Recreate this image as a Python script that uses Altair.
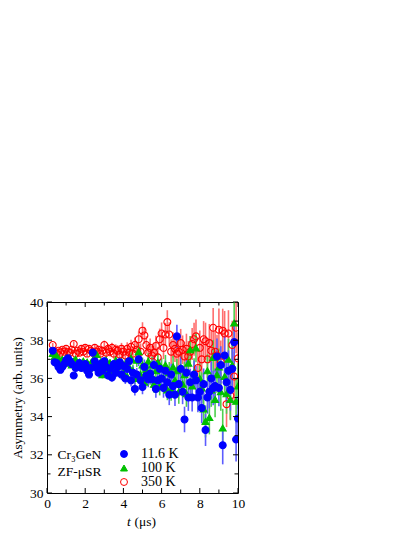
import altair as alt
import pandas as pd

# ---------------- data ----------------
t_us = [0.3, 0.4, 0.5, 0.6, 0.7, 0.8, 0.9, 1.0,
        1.1, 1.2, 1.3, 1.4, 1.5, 1.6, 1.7, 1.8, 1.9, 2.0,
        2.1, 2.2, 2.3, 2.4, 2.5, 2.6, 2.7, 2.8, 2.9, 3.0,
        3.1, 3.2, 3.3, 3.4, 3.5, 3.6, 3.7, 3.8, 3.9, 4.0,
        4.1, 4.2, 4.3, 4.4, 4.5, 4.6, 4.7, 4.8, 4.9, 5.0,
        5.1, 5.2, 5.3, 5.4, 5.5, 5.6, 5.7, 5.8, 5.9, 6.0,
        6.1, 6.2, 6.3, 6.4, 6.5, 6.6, 6.7, 6.8, 6.9, 7.0,
        7.1, 7.2, 7.3, 7.4, 7.5, 7.6, 7.7, 7.8, 7.9, 8.0,
        8.1, 8.2, 8.3, 8.4, 8.5, 8.6, 8.7, 8.8, 8.9, 9.0,
        9.1, 9.2, 9.3, 9.4, 9.5, 9.6, 9.7, 9.8, 9.9, 10.0]

asym_11K = [37.45, 36.85, 36.80, 36.60, 36.45, 36.60, 36.75, 36.95,
            37.05, 36.90, 36.75, 36.15, 36.55, 36.65, 36.80, 36.55, 36.70, 36.75,
            36.40, 36.20, 36.55, 37.35, 36.90, 36.55, 36.30, 36.75, 36.40, 36.90,
            36.60, 36.15, 36.50, 36.05, 36.75, 36.30, 36.60, 36.85, 36.20, 36.65,
            36.00, 36.50, 36.90, 35.90, 36.30, 35.45, 36.20, 37.00, 35.90, 35.55,
            36.60, 36.15, 35.95, 36.25, 35.95, 36.70, 35.45, 35.90, 36.50, 36.00,
            35.50, 36.40, 35.80, 35.15, 36.20, 35.60, 35.15, 38.20, 35.70, 36.50,
            35.30, 33.85, 36.30, 35.00, 35.80, 35.00, 36.20, 35.90, 35.00, 35.30,
            34.45, 35.70, 33.30, 35.00, 35.30, 36.00, 35.50, 35.60, 37.15, 35.50,
            36.70, 32.50, 37.20, 35.80, 36.40, 35.40, 36.50, 37.90, 32.80, 33.90]

asym_100K = [37.30, 37.15, 37.20, 37.05, 36.90, 37.00, 36.85, 37.05,
             36.80, 36.95, 36.70, 36.90, 37.00, 36.75, 36.85, 36.60, 36.90, 36.70,
             36.85, 36.55, 36.80, 36.95, 36.65, 37.25, 36.60, 36.85, 36.20, 36.75,
             36.95, 36.50, 36.80, 36.40, 36.70, 36.95, 36.35, 36.65, 36.85, 36.30,
             36.75, 36.10, 36.60, 37.05, 36.40, 36.00, 36.95, 37.40, 36.20, 36.70,
             35.80, 36.45, 36.90, 36.10, 36.70, 35.70, 36.40, 36.85, 35.60, 36.55,
             36.00, 36.70, 35.40, 36.30, 35.40, 36.60, 35.90, 36.40, 35.30, 36.55,
             35.70, 36.20, 35.20, 36.80, 37.50, 35.60, 36.30, 37.60, 35.10, 36.00,
             35.50, 34.40, 33.75, 36.40, 33.95, 35.40, 37.10, 34.90, 36.20, 36.60,
             35.30, 33.40, 36.10, 35.20, 37.00, 34.90, 36.70, 38.90, 34.80, 35.60]

asym_350K = [37.75, 37.40, 37.30, 37.45, 37.35, 37.50, 37.40, 37.55,
             37.40, 37.35, 37.50, 37.80, 37.30, 37.45, 37.35, 37.55, 37.40, 37.60,
             37.30, 37.55, 37.45, 37.35, 37.60, 37.40, 37.50, 37.30, 37.45, 37.75,
             37.35, 37.55, 37.40, 37.60, 37.30, 37.50, 37.45, 37.25, 37.55, 37.40,
             37.20, 37.55, 37.35, 37.65, 37.30, 37.75, 37.50, 38.05, 37.40, 38.50,
             38.25, 37.75, 37.35, 37.60, 37.20, 37.35, 37.70, 37.10, 38.05, 38.35,
             37.60, 38.30, 38.95, 38.30, 37.40, 37.75, 37.55, 37.30, 37.40, 37.85,
             37.50, 37.15, 37.55, 37.15, 37.40, 37.80, 38.05, 38.20, 36.55, 37.60,
             37.00, 38.05, 37.95, 37.00, 37.85, 37.45, 38.65, 37.40, 37.20, 38.55,
             36.85, 38.50, 38.35, 34.65, 38.35, 35.10, 37.75, 36.10, 38.65, 37.05]

err_11K = [0.09, 0.09, 0.10, 0.10, 0.10, 0.10, 0.11, 0.11,
           0.11, 0.12, 0.12, 0.12, 0.13, 0.13, 0.14, 0.14, 0.14, 0.15,
           0.15, 0.16, 0.16, 0.17, 0.17, 0.18, 0.18, 0.19, 0.19, 0.20,
           0.21, 0.21, 0.22, 0.23, 0.23, 0.24, 0.25, 0.26, 0.27, 0.28,
           0.29, 0.30, 0.31, 0.32, 0.33, 0.34, 0.35, 0.36, 0.37, 0.38,
           0.39, 0.40, 0.41, 0.42, 0.44, 0.45, 0.46, 0.47, 0.49, 0.50,
           0.51, 0.53, 0.54, 0.55, 0.57, 0.58, 0.60, 0.61, 0.62, 0.64,
           0.65, 0.67, 0.68, 0.70, 0.71, 0.73, 0.74, 0.76, 0.77, 0.79,
           0.80, 0.82, 0.84, 0.85, 0.87, 0.89, 0.90, 0.92, 0.94, 0.96,
           0.98, 1.00, 1.02, 1.04, 1.06, 1.08, 1.10, 1.13, 1.15, 1.18]

err_100K = [0.09, 0.10, 0.10, 0.10, 0.11, 0.10, 0.11, 0.11,
            0.12, 0.12, 0.12, 0.13, 0.13, 0.13, 0.14, 0.14, 0.15, 0.15,
            0.15, 0.16, 0.17, 0.17, 0.17, 0.18, 0.19, 0.19, 0.20, 0.20,
            0.21, 0.22, 0.22, 0.23, 0.24, 0.24, 0.25, 0.26, 0.27, 0.28,
            0.29, 0.30, 0.31, 0.32, 0.33, 0.34, 0.35, 0.36, 0.37, 0.39,
            0.40, 0.41, 0.42, 0.43, 0.44, 0.45, 0.47, 0.48, 0.49, 0.50,
            0.52, 0.53, 0.54, 0.56, 0.57, 0.59, 0.60, 0.61, 0.63, 0.64,
            0.66, 0.67, 0.69, 0.70, 0.72, 0.73, 0.75, 0.76, 0.78, 0.79,
            0.81, 0.83, 0.84, 0.86, 0.88, 0.89, 0.91, 0.93, 0.95, 0.97,
            0.99, 1.01, 1.03, 1.05, 1.07, 1.09, 1.11, 1.14, 1.16, 1.19]

err_350K = [0.10, 0.10, 0.11, 0.11, 0.11, 0.12, 0.12, 0.12,
            0.13, 0.13, 0.14, 0.14, 0.15, 0.15, 0.16, 0.16, 0.17, 0.17,
            0.18, 0.18, 0.19, 0.19, 0.20, 0.21, 0.21, 0.22, 0.22, 0.23,
            0.24, 0.25, 0.25, 0.26, 0.27, 0.28, 0.29, 0.30, 0.31, 0.32,
            0.33, 0.34, 0.35, 0.37, 0.38, 0.39, 0.40, 0.41, 0.43, 0.44,
            0.45, 0.46, 0.48, 0.49, 0.50, 0.52, 0.53, 0.55, 0.56, 0.58,
            0.59, 0.61, 0.62, 0.64, 0.65, 0.67, 0.69, 0.70, 0.72, 0.74,
            0.75, 0.77, 0.79, 0.81, 0.82, 0.84, 0.86, 0.88, 0.89, 0.91,
            0.93, 0.95, 0.97, 0.98, 1.00, 1.02, 1.04, 1.06, 1.09, 1.11,
            1.13, 1.15, 1.18, 1.20, 1.22, 1.25, 1.27, 1.30, 1.33, 1.36]

series_names = ["11.6 K", "100 K", "350 K"]
bar_keys = ["bar 11.6 K", "bar 100 K", "bar 350 K"]
x_major = [0, 2, 4, 6, 8, 10]
x_minor = [1, 3, 5, 7, 9]
y_major = [30, 32, 34, 36, 38, 40]
y_minor = [31, 33, 35, 37, 39]

# ---------------- build table (draw order: red, green, blue) ----------------
frames = []
for name, vals, errs in [("350 K", asym_350K, err_350K),
                         ("100 K", asym_100K, err_100K),
                         ("11.6 K", asym_11K, err_11K)]:
    d = pd.DataFrame({"t": t_us, "A": vals, "err": errs})
    d["series"] = name
    d["barkey"] = "bar " + name
    frames.append(d)
df = pd.concat(frames, ignore_index=True)
df["lo"] = df["A"] - df["err"]
df["hi"] = df["A"] + df["err"]

W, H = 191, 191
FONT = "Liberation Serif"

xs = alt.Scale(domain=[0, 10], nice=False, zero=False)
ys = alt.Scale(domain=[30, 40], nice=False, zero=False)

x_axis = alt.Axis(values=x_major, format="d", ticks=False, domain=False, grid=False,
                  labelPadding=3, labelFlush=False, title=None,
                  labelFont=FONT, labelFontSize=13.5, labelColor="black")
y_axis = alt.Axis(values=y_major, format="d", ticks=False, domain=False, grid=False,
                  labelPadding=4, labelFlush=False,
                  labelFont=FONT, labelFontSize=13.5, labelColor="black",
                  title="Asymmetry (arb. units)", titleFont=FONT, titleFontSize=13,
                  titleFontWeight="normal", titleColor="black", titlePadding=5)

bar_colors = ["#5c5cff", "#4fcf4f", "#ff6e6e"]
pt_fill = ["#0000ff", "#00c000", "transparent"]
pt_stroke = ["#0000ff", "#00c000", "#ff0000"]
pt_shape = ["circle", "triangle-up", "circle"]

leg = alt.Legend(orient="none", legendX=70, legendY=145, title=None,
                 labelFont=FONT, labelFontSize=14, labelColor="black",
                 labelOffset=10, symbolSize=48, symbolStrokeWidth=1,
                 rowPadding=0, padding=0)

bars = alt.Chart(df).mark_rule(strokeWidth=1.6, clip=True).encode(
    x=alt.X("t:Q", scale=xs, axis=x_axis),
    y=alt.Y("lo:Q", scale=ys, axis=y_axis),
    y2="hi:Q",
    color=alt.Color("barkey:N", scale=alt.Scale(domain=bar_keys, range=bar_colors), legend=None),
)

points = alt.Chart(df).mark_point(opacity=1, strokeWidth=1.1, size=48, clip=True).encode(
    x=alt.X("t:Q", scale=xs, axis=x_axis),
    y=alt.Y("A:Q", scale=ys, axis=y_axis),
    shape=alt.Shape("series:N", scale=alt.Scale(domain=series_names, range=pt_shape), legend=leg),
    fill=alt.Fill("series:N", scale=alt.Scale(domain=series_names, range=pt_fill), legend=leg),
    stroke=alt.Stroke("series:N", scale=alt.Scale(domain=series_names, range=pt_stroke), legend=leg),
)

# inward ticks on all four sides
def xticks(vals, length):
    d = pd.DataFrame({"t": vals})
    b = alt.Chart(d).mark_rule(color="black", strokeWidth=1)
    bottom = b.encode(x=alt.X("t:Q", scale=xs, axis=x_axis), y=alt.value(H), y2=alt.value(H - length))
    top = b.encode(x=alt.X("t:Q", scale=xs, axis=x_axis), y=alt.value(0), y2=alt.value(length))
    return [bottom, top]

def yticks(vals, length):
    d = pd.DataFrame({"A": vals})
    b = alt.Chart(d).mark_rule(color="black", strokeWidth=1)
    left = b.encode(y=alt.Y("A:Q", scale=ys, axis=y_axis), x=alt.value(0), x2=alt.value(length))
    right = b.encode(y=alt.Y("A:Q", scale=ys, axis=y_axis), x=alt.value(W), x2=alt.value(W - length))
    return [left, right]

tick_layers = xticks(x_major, 5) + xticks(x_minor, 3.5) + yticks(y_major, 5) + yticks(y_minor, 3.5)

# sample annotation
ann = pd.DataFrame({"t": [0.55, 0.55], "A": [31.98, 31.1], "label": ["Cr₃GeN", "ZF-μSR"]})
ann_text = alt.Chart(ann).mark_text(align="left", baseline="middle", font=FONT,
                                    fontSize=13.5, color="black").encode(
    x=alt.X("t:Q", scale=xs, axis=x_axis),
    y=alt.Y("A:Q", scale=ys, axis=y_axis),
    text="label:N",
)

# x-axis title with italic t
one = pd.DataFrame({"a": [0]})
xt_t = alt.Chart(one).mark_text(text="t", align="left", baseline="alphabetic", font=FONT,
                                fontSize=13.5, fontStyle="italic", color="black").encode(
    x=alt.value(80), y=alt.value(224))
xt_u = alt.Chart(one).mark_text(text="(μs)", align="left", baseline="alphabetic", font=FONT,
                                fontSize=13.5, color="black").encode(
    x=alt.value(87.5), y=alt.value(224))

chart = alt.layer(bars, points, *tick_layers, ann_text, xt_t, xt_u).properties(
    width=W, height=H,
    autosize=alt.AutoSizeParams(type="none"),
    padding={"left": 39, "top": 294, "right": 10, "bottom": 40},
    background="white",
).configure_view(stroke="black", strokeWidth=1)

chart.save("out.html", embed_options={"renderer": "svg", "actions": False})
